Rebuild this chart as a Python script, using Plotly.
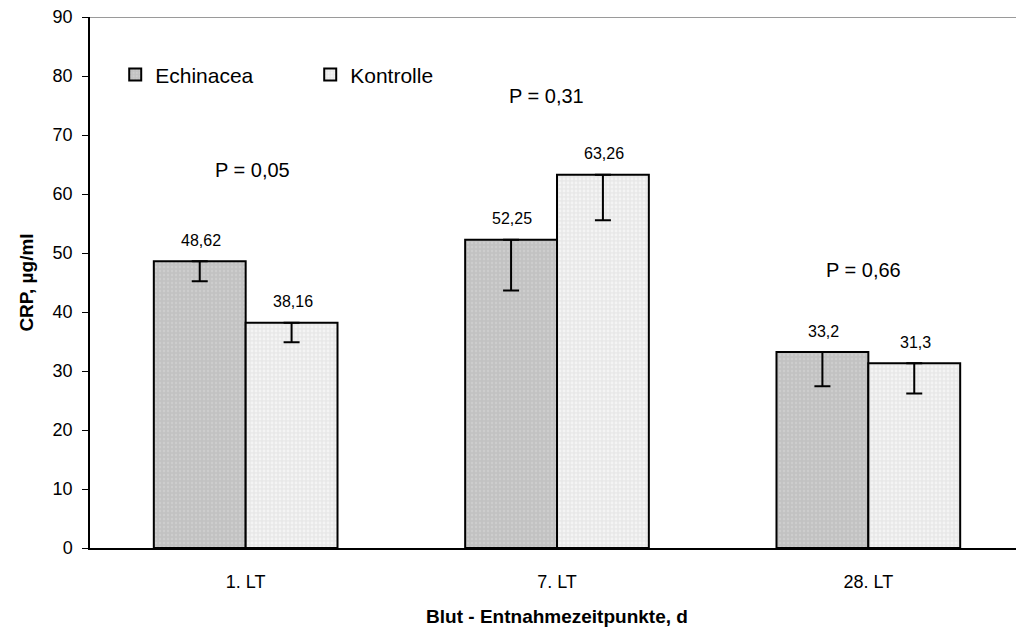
import plotly.graph_objects as go

categories = ["1. LT", "7. LT", "28. LT"]
echinacea = [48.62, 52.25, 33.2]
kontrolle = [38.16, 63.26, 31.3]
echinacea_err = [3.4, 8.6, 5.8]
kontrolle_err = [3.3, 7.7, 5.1]
echinacea_lbl = ["48,62", "52,25", "33,2"]
kontrolle_lbl = ["38,16", "63,26", "31,3"]
p_values = ["P = 0,05", "P = 0,31", "P = 0,66"]
p_y = [64.1, 76.6, 47.1]
p_xshift = [7, -11, -5]

FONT = "Liberation Sans, Arial, sans-serif"

fig = go.Figure()
fig.add_trace(go.Bar(
    name="Echinacea", x=categories, y=echinacea,
    marker=dict(color="#c2c2c2", line=dict(color="black", width=2),
                pattern=dict(shape=".", fgcolor="#d8d8d8", bgcolor="#c2c2c2", size=4, solidity=0.3)),
    error_y=dict(type="data", symmetric=False, array=[0, 0, 0], arrayminus=echinacea_err,
                 color="black", thickness=2, width=8),
))
fig.add_trace(go.Bar(
    name="Kontrolle", x=categories, y=kontrolle,
    marker=dict(color="#eeeeee", line=dict(color="black", width=2),
                pattern=dict(shape=".", fgcolor="#ffffff", bgcolor="#e8e8e8", size=4, solidity=0.4)),
    error_y=dict(type="data", symmetric=False, array=[0, 0, 0], arrayminus=kontrolle_err,
                 color="black", thickness=2, width=8),
))

for i, c in enumerate(categories):
    fig.add_annotation(x=c, y=echinacea[i], text=echinacea_lbl[i], showarrow=False,
                       xshift=-45, yshift=21, font=dict(size=16, color="black", family=FONT))
    fig.add_annotation(x=c, y=kontrolle[i], text=kontrolle_lbl[i], showarrow=False,
                       xshift=47, yshift=21, font=dict(size=16, color="black", family=FONT))
    fig.add_annotation(x=c, y=p_y[i], text=p_values[i], showarrow=False,
                       xshift=p_xshift[i], font=dict(size=20, color="black", family=FONT))

fig.add_shape(type="line", xref="paper", yref="y", x0=0, x1=1, y0=90, y1=90,
              line=dict(color="#9a9a9a", width=2))

# page body has an 8px margin; compensate so the plot lands where the reference has it
fig.update_layout(
    width=1016, height=625,
    margin=dict(l=82, r=0, t=9, b=85, autoexpand=False),
    paper_bgcolor="white", plot_bgcolor="white",
    barmode="group", bargap=0.41, bargroupgap=0,
    font=dict(family=FONT, size=18, color="black"),
    showlegend=True,
    legend=dict(orientation="h", x=0.027, y=0.891, xanchor="left", yanchor="middle",
                bgcolor="rgba(0,0,0,0)", font=dict(size=21),
                entrywidth=150, entrywidthmode="pixels", itemsizing="constant"),
    xaxis=dict(showline=True, linecolor="black", linewidth=2, ticks="",
               ticklabelstandoff=16, tickfont=dict(size=18), automargin=False,
               title=dict(text="<b>Blut - Entnahmezeitpunkte, d</b>", font=dict(size=19), standoff=19)),
    yaxis=dict(range=[0, 90], dtick=10, showline=True, linecolor="black", linewidth=1.5,
               ticks="outside", ticklen=6, tickcolor="black", showgrid=False, zeroline=False,
               ticklabelstandoff=6, tickfont=dict(size=18), automargin=False,
               ticklabeloverflow="allow",
               title=dict(text="<b>CRP, µg/ml</b>", font=dict(size=19), standoff=14)),
)

fig.write_html("out.html")
